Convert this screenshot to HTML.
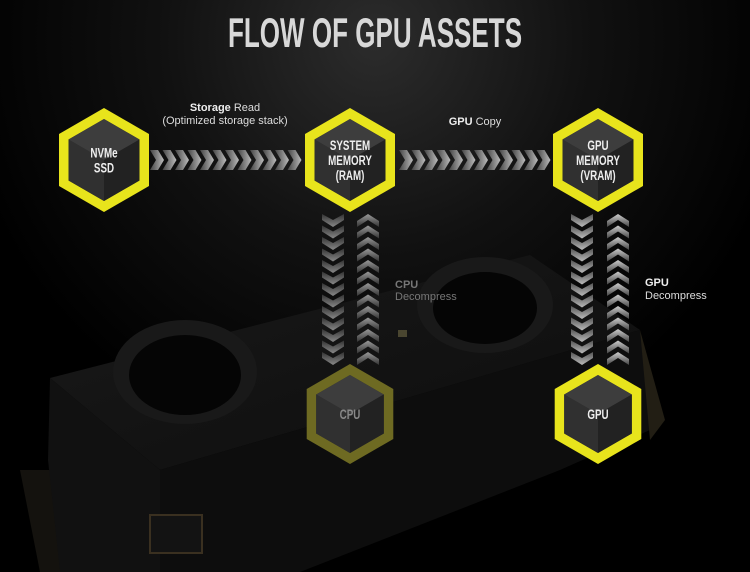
<!DOCTYPE html>
<html><head><meta charset="utf-8"><style>
html,body{margin:0;padding:0;background:#000;}
body{width:750px;height:572px;overflow:hidden;position:relative;font-family:"Liberation Sans",sans-serif;}
svg{position:absolute;left:0;top:0}
</style></head><body>
<svg id="s" width="750" height="572" viewBox="0 0 750 572">
<defs>
<radialGradient id="bg" cx="375" cy="40" r="420" gradientUnits="userSpaceOnUse">
<stop offset="0" stop-color="#2c2c2c"/><stop offset="0.5" stop-color="#111"/><stop offset="1" stop-color="#000"/>
</radialGradient>
<linearGradient id="hg" x1="0" x2="1"><stop offset="0" stop-color="#444"/><stop offset="1" stop-color="#bbb"/></linearGradient>
<linearGradient id="vd" x1="0" y1="0" x2="0" y2="1"><stop offset="0" stop-color="#333"/><stop offset="1" stop-color="#888"/></linearGradient>
<linearGradient id="vu" x1="0" y1="1" x2="0" y2="0"><stop offset="0" stop-color="#333"/><stop offset="1" stop-color="#999"/></linearGradient>
<linearGradient id="vd2" x1="0" y1="0" x2="0" y2="1"><stop offset="0" stop-color="#555"/><stop offset="1" stop-color="#bbb"/></linearGradient>
<linearGradient id="vu2" x1="0" y1="1" x2="0" y2="0"><stop offset="0" stop-color="#444"/><stop offset="1" stop-color="#ccc"/></linearGradient>
<linearGradient id="top" x1="0" y1="0" x2="1" y2="1"><stop offset="0" stop-color="#1a1a1a"/><stop offset="1" stop-color="#0c0c0c"/></linearGradient>
</defs>
<rect width="750" height="572" fill="url(#bg)"/>
<g>
<polygon points="20,470 80,470 90,572 40,572" fill="#14120e"/>
<polygon points="50,378 530,255 640,330 160,470" fill="url(#top)"/>
<polygon points="50,378 160,470 160,572 60,572 48,460" fill="#111"/>
<polygon points="160,470 640,330 650,430 560,470 300,572 160,572" fill="#0d0d0d"/>
<polygon points="640,330 665,420 650,440" fill="#221e14"/>
<ellipse cx="185" cy="372" rx="72" ry="52" fill="#191919"/>
<ellipse cx="185" cy="375" rx="56" ry="40" fill="#050505"/>
<ellipse cx="485" cy="305" rx="68" ry="48" fill="#191919"/>
<ellipse cx="485" cy="308" rx="52" ry="36" fill="#050505"/>
<rect x="150" y="515" width="52" height="38" fill="#131313" stroke="#3a3020" stroke-width="2"/>
<rect x="398" y="330" width="9" height="7" fill="#4a4630"/>
</g>
<g id="chev"></g>
<g id="hex"></g>
<g font-family="Liberation Sans, sans-serif" font-size="11" fill="#ddd" text-anchor="middle">
<text x="225" y="111"><tspan font-weight="bold" fill="#eee">Storage</tspan> Read</text>
<text x="225" y="124">(Optimized storage stack)</text>
<text x="475" y="125"><tspan font-weight="bold" fill="#eee">GPU</tspan> Copy</text>
<text x="395" y="288" text-anchor="start" fill="#777" font-weight="bold">CPU</text>
<text x="395" y="300" text-anchor="start" fill="#777">Decompress</text>
<text x="645" y="286" text-anchor="start" fill="#eee" font-weight="bold">GPU</text>
<text x="645" y="299" text-anchor="start" fill="#ddd">Decompress</text>
</g>
<text x="0" y="0" transform="translate(375,47) scale(0.62,1)" text-anchor="middle" font-family="Liberation Sans, sans-serif" font-weight="bold" font-size="42" fill="#d8d8d8">FLOW OF GPU ASSETS</text>
</svg>
<script>
var NS="http://www.w3.org/2000/svg";
function el(t,a,p){var e=document.createElementNS(NS,t);for(var k in a)e.setAttribute(k,a[k]);p.appendChild(e);return e;}
var ch=document.getElementById('chev');
function hrow(x0,x1,y,fill){var g=el('g',{fill:fill},ch);for(var x=x0;x<x1;x+=12.5){el('polygon',{points:[x,y-10,x+8,y-10,x+14,y,x+8,y+10,x,y+10,x+6,y].join(' ')},g);}}
hrow(150,300,160,'url(#hg)');hrow(399,548,160,'url(#hg)');
function vcol(x,y0,y1,dir,fill){var g=el('g',{fill:fill},ch);var w=11;for(var y=y0;y<y1;y+=11.5){if(dir>0)el('polygon',{points:[x-w,y,x,y+6,x+w,y,x+w,y+6,x,y+13,x-w,y+6].join(' ')},g);else el('polygon',{points:[x-w,y+7,x,y,x+w,y+7,x+w,y+13,x,y+6,x-w,y+13].join(' ')},g);}}
vcol(333,214,362,1,'url(#vd)');vcol(368,214,362,-1,'url(#vu)');
vcol(582,214,362,1,'url(#vd2)');vcol(618,214,362,-1,'url(#vu2)');
var hx=document.getElementById('hex');
function hex(cx,cy,R,col,lines,tc){
 var pts=function(r){var a=[];for(var i=0;i<6;i++){var t=Math.PI/180*(60*i-90);a.push((cx+r*Math.cos(t)).toFixed(1)+','+(cy+r*Math.sin(t)).toFixed(1));}return a;};
 el('polygon',{points:pts(R).join(' '),fill:col},hx);
 var p=pts(R-11);
 el('polygon',{points:p.join(' '),fill:'#2a2a2a'},hx);
 var c=cx+','+cy;
 el('polygon',{points:[c,p[5],p[0],p[1]].join(' '),fill:'#3d3d3d'},hx);
 el('polygon',{points:[c,p[1],p[2],p[3]].join(' '),fill:'#222'},hx);
 el('polygon',{points:[c,p[3],p[4],p[5]].join(' '),fill:'#303030'},hx);
 var n=lines.length;
 lines.forEach(function(l,i){var t=el('text',{x:0,y:0,transform:'translate('+cx+','+(cy+5+(i-(n-1)/2)*15)+') scale(0.7,1)','text-anchor':'middle','font-family':'Liberation Sans, sans-serif','font-weight':'bold','font-size':'14',fill:tc},hx);t.textContent=l;});
}
hex(104,160,52,'#e8e41c',['NVMe','SSD'],'#eee');
hex(350,160,52,'#e8e41c',['SYSTEM','MEMORY','(RAM)'],'#eee');
hex(598,160,52,'#e8e41c',['GPU','MEMORY','(VRAM)'],'#eee');
hex(350,414,50,'#6e6a22',['CPU'],'#888');
hex(598,414,50,'#e8e41c',['GPU'],'#eee');
</script>
</body></html>
